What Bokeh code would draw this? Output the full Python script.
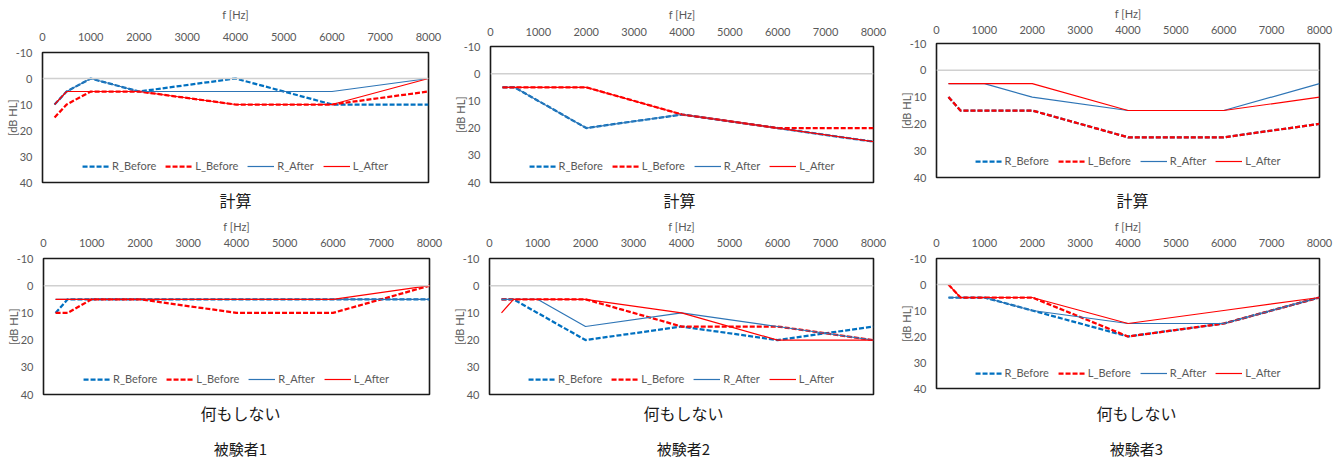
from bokeh.plotting import figure
from bokeh.layouts import column, row
from bokeh.models import Range1d, FixedTicker, Span, Label
from bokeh.embed import file_html
from bokeh.resources import INLINE

freqs = [250, 500, 1000, 2000, 4000, 6000, 8000]
x_ticks = [0, 1000, 2000, 3000, 4000, 5000, 6000, 7000, 8000]
y_ticks = [-10, 0, 10, 20, 30, 40]
series_names = ["R_Before", "L_Before", "R_After", "L_After"]
condition_labels = ["計算", "何もしない"]
subject_labels = ["被験者1", "被験者2", "被験者3"]

# 計算
s1_calc_r_before = [10, 5, 0, 5, 0, 10, 10]
s1_calc_l_before = [15, 10, 5, 5, 10, 10, 5]
s1_calc_r_after = [10, 5, 0, 5, 5, 5, 0]
s1_calc_l_after = [10, 5, 5, 5, 10, 10, 0]
s2_calc_r_before = [5, 5, 10, 20, 15, 20, 25]
s2_calc_l_before = [5, 5, 5, 5, 15, 20, 20]
s2_calc_r_after = [5, 5, 10, 20, 15, 20, 25]
s2_calc_l_after = [5, 5, 5, 5, 15, 20, 25]
s3_calc_r_before = [10, 15, 15, 15, 25, 25, 20]
s3_calc_l_before = [10, 15, 15, 15, 25, 25, 20]
s3_calc_r_after = [5, 5, 5, 10, 15, 15, 5]
s3_calc_l_after = [5, 5, 5, 5, 15, 15, 10]
# 何もしない
s1_none_r_before = [10, 5, 5, 5, 5, 5, 5]
s1_none_l_before = [10, 10, 5, 5, 10, 10, 0]
s1_none_r_after = [5, 5, 5, 5, 5, 5, 5]
s1_none_l_after = [5, 5, 5, 5, 5, 5, 0]
s2_none_r_before = [5, 5, 10, 20, 15, 20, 15]
s2_none_l_before = [5, 5, 5, 5, 15, 15, 20]
s2_none_r_after = [5, 5, 5, 15, 10, 15, 20]
s2_none_l_after = [10, 5, 5, 5, 10, 20, 20]
s3_none_r_before = [5, 5, 5, 10, 20, 15, 5]
s3_none_l_before = [0, 5, 5, 5, 20, 15, 5]
s3_none_r_after = [5, 5, 5, 10, 15, 15, 5]
s3_none_l_after = [0, 5, 5, 5, 15, 10, 5]

STYLES = [
    dict(line_color="#0070C0", line_width=2.25, line_dash="5 2"),
    dict(line_color="#FF0000", line_width=2.25, line_dash="5 2"),
    dict(line_color="#2E75B6", line_width=1.2),
    dict(line_color="#FF0000", line_width=1.2),
]
GREY = "#595959"
LATIN = "Lato"
JP = "Noto Sans CJK JP"
TEXT_DARK = "#1a1a1a"


def make_panel(series, geom):
    w, h, bl, br, bt, bb, lbl_so, axlbl_so, leg_margin = geom
    p = figure(width=w, height=h, x_range=Range1d(0, 8000), y_range=Range1d(40, -10),
               x_axis_location="above", output_backend="svg", toolbar_location=None,
               min_border_left=bl, min_border_right=br, min_border_top=bt, min_border_bottom=bb,
               background_fill_color="white", border_fill_color="white")
    p.outline_line_color = TEXT_DARK
    p.outline_line_width = 1.6
    p.xgrid.visible = False
    p.ygrid.visible = False
    p.add_layout(Span(location=0, dimension="width", line_color="#d0d0d0", line_width=1.5))
    for ys, name, st in zip(series, series_names, STYLES):
        p.line(freqs, ys, legend_label=name, **st)
    xa = p.xaxis[0]
    xa.ticker = FixedTicker(ticks=x_ticks)
    xa.axis_label = "f [Hz]"
    xa.major_label_standoff = lbl_so
    xa.axis_label_standoff = axlbl_so
    ya = p.yaxis[0]
    ya.ticker = FixedTicker(ticks=y_ticks)
    ya.major_label_overrides = {t: str(t) for t in y_ticks}
    ya.axis_label = "[dB HL]"
    ya.major_label_standoff = 10
    ya.axis_label_standoff = -6
    for ax in (xa, ya):
        ax.axis_line_color = None
        ax.major_tick_line_color = None
        ax.minor_tick_line_color = None
        ax.major_tick_out = 0
        ax.major_tick_in = 0
        ax.major_label_text_font = LATIN
        ax.major_label_text_font_size = "11px"
        ax.major_label_text_color = GREY
        ax.axis_label_text_font = LATIN
        ax.axis_label_text_font_size = "11px"
        ax.axis_label_text_font_style = "normal"
        ax.axis_label_text_color = GREY
    lg = p.legend[0]
    lg.orientation = "horizontal"
    lg.location = "bottom_center"
    lg.glyph_width = 27
    lg.glyph_height = 12
    lg.label_height = 12
    lg.label_standoff = 3
    lg.spacing = 9
    lg.padding = 0
    lg.margin = leg_margin
    lg.background_fill_alpha = 0
    lg.border_line_color = None
    lg.label_text_font = LATIN
    lg.label_text_font_size = "11px"
    lg.label_text_color = GREY
    return p


def make_text_strip(w, h, items):
    """A blank strip holding caption texts; items = (text, x_px, y_from_top_px, size)."""
    t = figure(width=w, height=h, x_range=Range1d(0, 1), y_range=Range1d(0, 1),
               output_backend="svg", toolbar_location=None, min_border=0,
               background_fill_color="white", border_fill_color="white")
    t.outline_line_color = None
    t.axis.visible = False
    t.grid.visible = False
    for text, x_px, y_top, size in items:
        t.add_layout(Label(x=x_px, y=h - y_top, x_units="screen", y_units="screen", text=text,
                           text_align="center", text_baseline="middle", text_font=JP,
                           text_font_size=size, text_color=TEXT_DARK))
    return t


# row A: 計算 panels (page y 0..189)
p1 = make_panel([s1_calc_r_before, s1_calc_l_before, s1_calc_r_after, s1_calc_l_after],
                (448, 189, 42, 20, 52, 7, 12, 9, 10))
p2 = make_panel([s2_calc_r_before, s2_calc_l_before, s2_calc_r_after, s2_calc_l_after],
                (446, 189, 42, 21, 46, 7, 11, 4, 10))
p3 = make_panel([s3_calc_r_before, s3_calc_l_before, s3_calc_r_after, s3_calc_l_after],
                (450, 189, 42, 25, 43, 12, 10, 3, 10))
# row B: captions (page y 189..216)
t1 = make_text_strip(448, 27, [(condition_labels[0], 235, 10, "16px")])
t2 = make_text_strip(446, 27, [(condition_labels[0], 231, 10, "16px")])
t3 = make_text_strip(450, 27, [(condition_labels[0], 238, 10, "16px")])
# row C: 何もしない panels (page y 216..402)
p4 = make_panel([s1_none_r_before, s1_none_l_before, s1_none_r_after, s1_none_l_after],
                (447, 186, 43, 18, 42, 8, 12, 3, 9))
p5 = make_panel([s2_none_r_before, s2_none_l_before, s2_none_r_after, s2_none_l_after],
                (447, 186, 42, 21, 42, 8, 12, 3, 9))
p6 = make_panel([s3_none_r_before, s3_none_l_before, s3_none_r_after, s3_none_l_after],
                (450, 186, 42, 25, 41, 14, 12, 3, 9))
# row D: captions (page y 402..459)
t4 = make_text_strip(447, 57, [(condition_labels[1], 240, 10, "16px"),
                               (subject_labels[0], 240, 46, "15px")])
t5 = make_text_strip(447, 57, [(condition_labels[1], 236, 10, "16px"),
                               (subject_labels[1], 236, 46, "15px")])
t6 = make_text_strip(450, 57, [(condition_labels[1], 242, 10, "16px"),
                               (subject_labels[2], 242, 46, "15px")])

layout = column(
    row(column(p1), column(p2), column(p3)),
    row(column(t1), column(t2), column(t3)),
    row(column(p4), column(p5), column(p6)),
    row(column(t4), column(t5), column(t6)),
)
open("out.html", "w").write(file_html(layout, INLINE))
